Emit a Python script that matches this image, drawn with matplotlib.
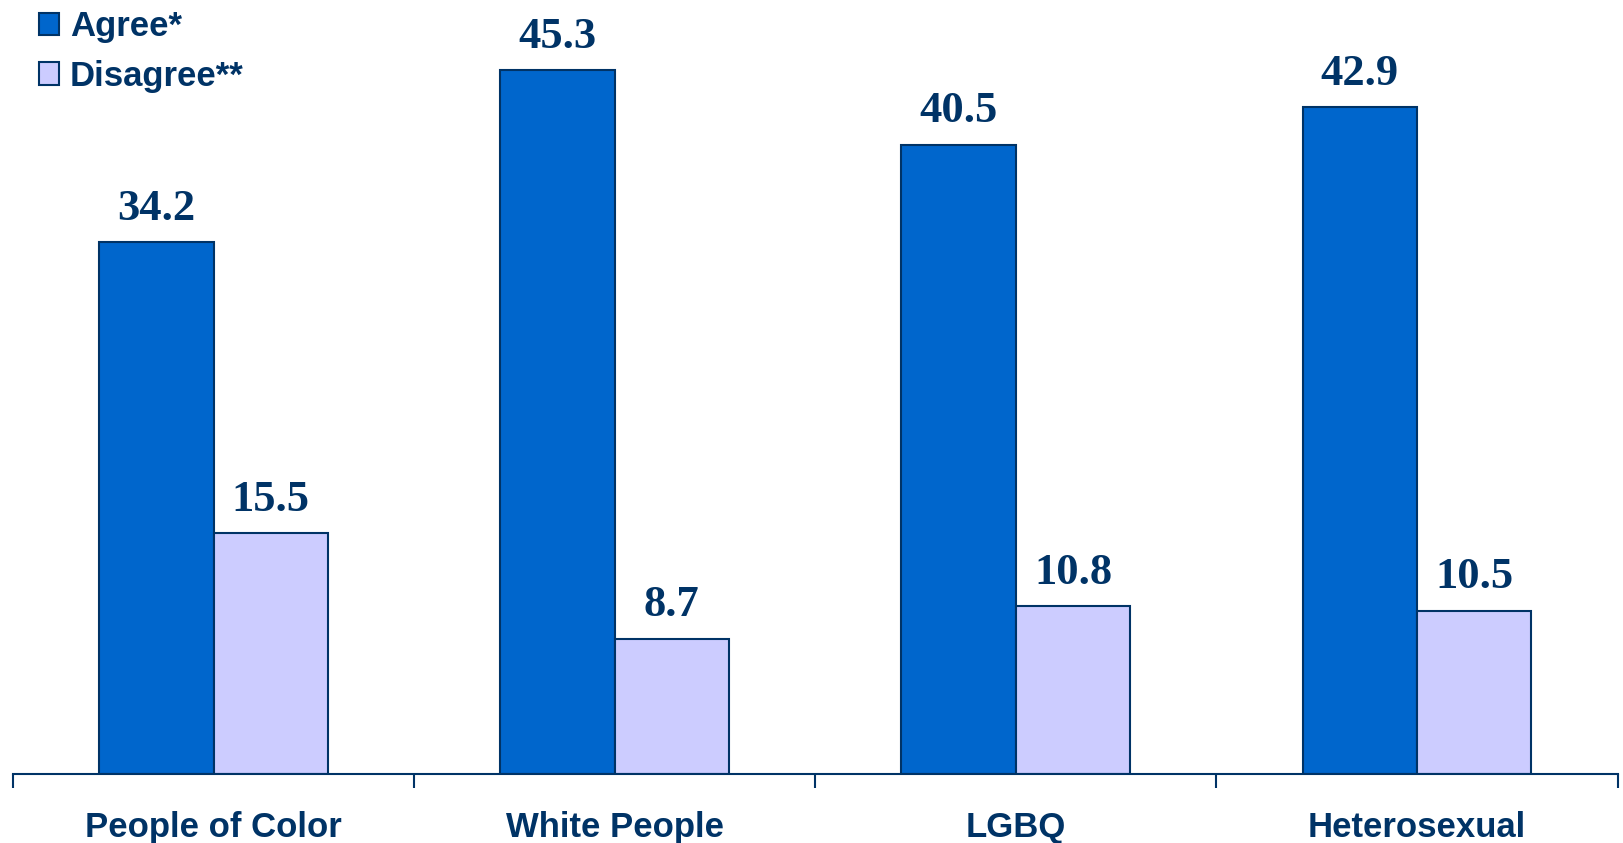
import matplotlib.pyplot as plt
import numpy as np

# data
groups = ['People of Color', 'White People', 'LGBQ', 'Heterosexual']
agree = [34.2, 45.3, 40.5, 42.9]
disagree = [15.5, 8.7, 10.8, 10.5]

navy = '#003366'
blue = '#0066CC'
lilac = '#CCCCFF'

fig = plt.figure(figsize=(16.24, 8.43), dpi=100)
ax = fig.add_axes([0.008, 0.082, 0.988, 0.918])

x = np.arange(len(groups))
w = 0.285
b1 = ax.bar(x - w / 2, agree, w, color=blue, edgecolor=navy, linewidth=1.5, label='Agree*')
b2 = ax.bar(x + w / 2, disagree, w, color=lilac, edgecolor=navy, linewidth=1.5, label='Disagree**')

# value labels over bars
for bars, vals in [(b1, agree), (b2, disagree)]:
    for r, v in zip(bars, vals):
        ax.annotate(f'{v:.1f}', (r.get_x() + r.get_width() / 2, v),
                    xytext=(0, 16), textcoords='offset points',
                    ha='center', va='baseline', fontsize=32, fontweight='bold',
                    family='Liberation Serif', color=navy)

ax.set_xlim(-0.5, 3.5)
ax.set_ylim(0, 49.8)
for s in ['top', 'right', 'left']:
    ax.spines[s].set_visible(False)
ax.spines['bottom'].set_color(navy)
ax.spines['bottom'].set_linewidth(1.5)
ax.set_yticks([])

ax.set_xticks(x)
ax.set_xticklabels(groups, fontsize=25, fontweight='bold', family='Liberation Sans', color=navy)
ax.tick_params(axis='x', which='major', length=0, pad=27)
ax.set_xticks(np.arange(-0.5, 4.0, 1.0), minor=True)
ax.tick_params(axis='x', which='minor', length=10, width=1.5, color=navy)

leg = ax.legend(loc='upper left', bbox_to_anchor=(0.016, 0.987), frameon=False,
                handlelength=0.6, handleheight=0.6, handletextpad=0.3,
                labelspacing=0.48, borderaxespad=0, borderpad=0,
                prop={'family': 'Liberation Sans', 'weight': 'bold', 'size': 25})
for t in leg.get_texts():
    t.set_color(navy)

fig.savefig('out.png', dpi=100)
